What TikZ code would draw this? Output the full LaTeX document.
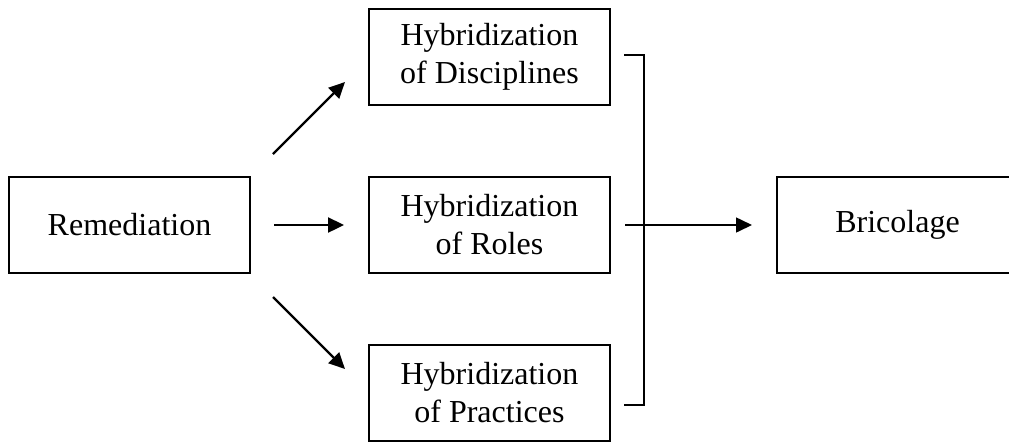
\documentclass[tikz,border=0pt]{standalone}
\usepackage{fontspec}
\setmainfont{Liberation Serif}
\usetikzlibrary{arrows.meta}
\tikzset{
  hbox/.style={draw, line width=1pt, minimum width=120.5pt, minimum height=48pt, inner sep=0pt, align=center, font=\fontsize{16pt}{19pt}\selectfont},
  arr/.style={line width=1.2pt, -{Triangle[length=8pt,width=7.5pt]}}
}
\begin{document}
\begin{tikzpicture}[x=0.5pt, y=-0.5pt]
\useasboundingbox (0,0) rectangle (1009,441);
\node[hbox] (remed) at (129.5,225){Remediation};
\node[hbox] (hdisc) at (489.5,57){Hybridization\\of Disciplines};
\node[hbox] (hroles) at (489.5,225){Hybridization\\of Roles};
\node[hbox] (hprac) at (489.5,393){Hybridization\\of Practices};
\node[hbox] (bric) at (897.5,225){Bricolage};
\coordinate (up0) at (273,154);
\coordinate (up1) at (345,82);
\coordinate (dn0) at (273,297);
\coordinate (dn1) at (345,369);
\draw[arr] (up0) -- (up1);
\draw[arr, shorten <=11.5pt, shorten >=12pt] (remed) -- (hroles);
\draw[arr] (dn0) -- (dn1);
\coordinate (brt) at (624,55);
\coordinate (brb) at (624,405);
\draw[line width=0.8pt] (brt) -- (644,55) -- (644,405) -- (brb);
\draw[arr, line width=0.8pt] ([xshift=7pt]hroles.east) -- ([xshift=-12pt]bric.west);
\end{tikzpicture}
\end{document}
